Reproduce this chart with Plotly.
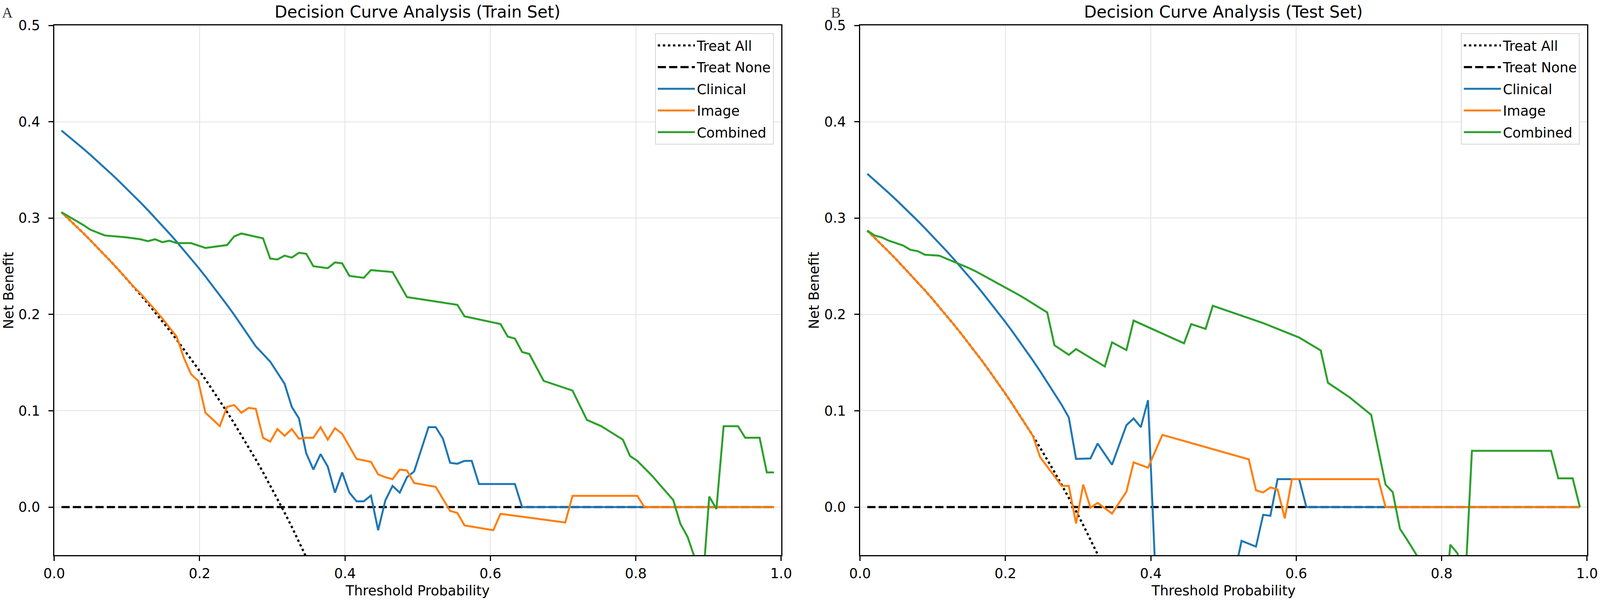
import plotly.graph_objects as go

W, H = 4212, 1541

# ---------------- data ----------------
# threshold probabilities used for the smooth "Treat All" curves
grid_lo = [0.01, 0.0199, 0.0298, 0.0397, 0.0496, 0.0595, 0.0694, 0.0793, 0.0892,
           0.0991, 0.109, 0.1189, 0.1288, 0.1387, 0.1486, 0.1585, 0.1684, 0.1783,
           0.1882, 0.1981, 0.208, 0.2179, 0.2278, 0.2377, 0.2476, 0.2575, 0.2674,
           0.2773, 0.2872, 0.2971, 0.307, 0.3169, 0.3268, 0.3367, 0.3466, 0.3565]

# --- Train set ---
train_all_x = grid_lo
train_all_y = [0.3061, 0.2991, 0.2919, 0.2846, 0.2771, 0.2695, 0.2618, 0.2538, 0.2457,
               0.2374, 0.2290, 0.2203, 0.2114, 0.2024, 0.1931, 0.1836, 0.1739, 0.1639,
               0.1537, 0.1433, 0.1326, 0.1216, 0.1103, 0.0988, 0.0869, 0.0747, 0.0622,
               0.0494, 0.0362, 0.0226, 0.0087, -0.0057, -0.0205, -0.0357, -0.0514, -0.0676]

none_x = [0.01, 0.99]
none_y = [0.0, 0.0]

train_clin_x = [0.01, 0.0199, 0.0298, 0.0397, 0.0496, 0.0595, 0.0694, 0.0793, 0.0892,
                0.0991, 0.109, 0.1189, 0.1288, 0.1387, 0.1486, 0.1585, 0.1684, 0.1783,
                0.1882, 0.1981, 0.208, 0.2179, 0.2278, 0.2377, 0.2476, 0.2575, 0.2674,
                0.2773, 0.2872, 0.2971, 0.3169, 0.3268, 0.3367, 0.3466, 0.3565, 0.3664,
                0.3763, 0.3862, 0.3961, 0.406, 0.4159, 0.4258, 0.4357, 0.4456, 0.4555,
                0.4654, 0.4753, 0.4852, 0.4951, 0.5149, 0.5248, 0.5347, 0.5446, 0.5545,
                0.5644, 0.5743, 0.5842, 0.6337, 0.6436, 0.9901]
train_clin_y = [0.3909, 0.3848, 0.3786, 0.3722, 0.3657, 0.3590, 0.3523, 0.3453, 0.3382,
                0.3310, 0.3236, 0.3160, 0.3083, 0.3004, 0.2923, 0.2840, 0.2755, 0.2668,
                0.2579, 0.2488, 0.2394, 0.2298, 0.2200, 0.2099, 0.1996, 0.1889, 0.1780,
                0.1668, 0.159, 0.151, 0.128, 0.104, 0.092, 0.056, 0.039, 0.055,
                0.042, 0.015, 0.036, 0.015, 0.006, 0.006, 0.012, -0.024, 0.007,
                0.022, 0.015, 0.031, 0.037, 0.083, 0.083, 0.071, 0.046, 0.045,
                0.048, 0.048, 0.024, 0.024, 0.0, 0.0]

train_img_x = [0.01, 0.0199, 0.0298, 0.0397, 0.0496, 0.0595, 0.0694, 0.0793, 0.0892,
               0.0991, 0.109, 0.1189, 0.1288, 0.1387, 0.1486, 0.1585, 0.1684, 0.1783,
               0.1882, 0.1981, 0.208, 0.2278, 0.2377, 0.2476, 0.2575, 0.2674, 0.2773,
               0.2872, 0.2971, 0.307, 0.3169, 0.3268, 0.3367, 0.3466, 0.3565, 0.3664,
               0.3763, 0.3862, 0.3961, 0.4159, 0.4357, 0.4456, 0.4555, 0.4654, 0.4753,
               0.4852, 0.4951, 0.5248, 0.5446, 0.5545, 0.5644, 0.604, 0.6139, 0.703,
               0.7129, 0.802, 0.8119, 0.9901]
train_img_y = [0.3061, 0.2991, 0.2919, 0.2846, 0.2771, 0.2695, 0.2618, 0.2538, 0.2457,
               0.2374, 0.2290, 0.2215, 0.2135, 0.2048, 0.1960, 0.1866, 0.1770, 0.155,
               0.138, 0.131, 0.098, 0.084, 0.104, 0.106, 0.098, 0.103, 0.102,
               0.072, 0.068, 0.081, 0.074, 0.081, 0.071, 0.072, 0.072, 0.083,
               0.070, 0.082, 0.076, 0.050, 0.047, 0.034, 0.031, 0.029, 0.039,
               0.038, 0.025, 0.021, -0.004, -0.006, -0.019, -0.024, -0.007, -0.016,
               0.0117, 0.0117, 0.0, 0.0]

train_comb_x = [0.01, 0.0397, 0.0496, 0.0694, 0.0991, 0.1189, 0.1288, 0.1387, 0.1486,
                0.1585, 0.1684, 0.1882, 0.208, 0.2377, 0.2476, 0.2575, 0.2872, 0.2971,
                0.307, 0.3169, 0.3268, 0.3367, 0.3466, 0.3565, 0.3763, 0.3862, 0.3961,
                0.406, 0.4258, 0.4357, 0.4654, 0.4852, 0.5545, 0.5644, 0.6139, 0.6238,
                0.6337, 0.6436, 0.6535, 0.6733, 0.7129, 0.7327, 0.7525, 0.7822, 0.7921,
                0.802, 0.8218, 0.8416, 0.8515, 0.8614, 0.8713, 0.8812, 0.8911, 0.901,
                0.9109, 0.9208, 0.9406, 0.9505, 0.9703, 0.9802, 0.9901]
train_comb_y = [0.306, 0.293, 0.288, 0.282, 0.280, 0.278, 0.276, 0.278, 0.275,
                0.2765, 0.274, 0.274, 0.269, 0.272, 0.281, 0.284, 0.279, 0.258,
                0.257, 0.261, 0.259, 0.264, 0.263, 0.250, 0.248, 0.254, 0.253,
                0.240, 0.238, 0.246, 0.244, 0.218, 0.210, 0.198, 0.190, 0.177,
                0.175, 0.161, 0.159, 0.131, 0.121, 0.0905, 0.084, 0.070, 0.053,
                0.048, 0.033, 0.016, 0.0073, -0.0175, -0.031, -0.053, -0.090, 0.011,
                -0.002, 0.084, 0.084, 0.072, 0.072, 0.036, 0.036]

# --- Test set ---
test_all_x = grid_lo[:34]
test_all_y = [0.2870, 0.2798, 0.2724, 0.2649, 0.2573, 0.2494, 0.2415, 0.2333, 0.2250,
              0.2165, 0.2077, 0.1988, 0.1897, 0.1804, 0.1709, 0.1611, 0.1512, 0.1409,
              0.1305, 0.1197, 0.1087, 0.0974, 0.0859, 0.0740, 0.0618, 0.0493, 0.0365,
              0.0232, 0.0097, -0.0043, -0.0186, -0.0334, -0.0486, -0.0642]

test_clin_x = [0.01, 0.0199, 0.0298, 0.0397, 0.0496, 0.0595, 0.0694, 0.0793, 0.0892,
               0.0991, 0.109, 0.1189, 0.1288, 0.1387, 0.1486, 0.1585, 0.1684, 0.1783,
               0.1882, 0.1981, 0.208, 0.2179, 0.2278, 0.2377, 0.2476, 0.2575, 0.2674,
               0.2773, 0.2872, 0.2971, 0.3169, 0.3268, 0.3466, 0.3664, 0.3763, 0.3862,
               0.3961, 0.406, 0.4159, 0.505, 0.5149, 0.5248, 0.5446, 0.5545, 0.5644,
               0.5743, 0.604, 0.6139, 0.9901]
test_clin_y = [0.3460, 0.3395, 0.3328, 0.3260, 0.3190, 0.3119, 0.3046, 0.2972, 0.2896,
               0.2819, 0.2740, 0.2659, 0.2576, 0.2491, 0.2404, 0.2316, 0.2225, 0.2132,
               0.2037, 0.1939, 0.1839, 0.1736, 0.1631, 0.1523, 0.1412, 0.1298, 0.1182,
               0.1062, 0.093, 0.050, 0.0505, 0.066, 0.044, 0.085, 0.092, 0.083,
               0.111, -0.065, -0.14, -0.12, -0.07, -0.035, -0.041, -0.008, -0.009,
               0.029, 0.029, 0.0, 0.0]

test_img_x = [0.01, 0.0199, 0.0298, 0.0397, 0.0496, 0.0595, 0.0694, 0.0793, 0.0892,
              0.0991, 0.109, 0.1189, 0.1288, 0.1387, 0.1486, 0.1585, 0.1684, 0.1783,
              0.1882, 0.1981, 0.208, 0.2179, 0.2278, 0.2377, 0.2476, 0.2773, 0.2872,
              0.2971, 0.307, 0.3169, 0.3268, 0.3466, 0.3664, 0.3763, 0.3961, 0.4159,
              0.5347, 0.5446, 0.5545, 0.5644, 0.5743, 0.5842, 0.5941, 0.7129, 0.7228,
              0.9901]
test_img_y = [0.2870, 0.2798, 0.2724, 0.2649, 0.2573, 0.2494, 0.2415, 0.2333, 0.2250,
              0.2165, 0.2077, 0.1988, 0.1897, 0.1804, 0.1709, 0.1611, 0.1512, 0.1409,
              0.1305, 0.1197, 0.1087, 0.0974, 0.0859, 0.0740, 0.052, 0.022, 0.022,
              -0.017, 0.0234, -0.0006, 0.0044, -0.0067, 0.016, 0.0464, 0.041, 0.075,
              0.0496, 0.0175, 0.0152, 0.0204, 0.0184, -0.0117, 0.029, 0.029, 0.0,
              0.0]

test_comb_x = [0.01, 0.0199, 0.0298, 0.0397, 0.0595, 0.0694, 0.0793, 0.0892, 0.109,
               0.1189, 0.1288, 0.1387, 0.1486, 0.1585, 0.1684, 0.1783, 0.1882, 0.1981,
               0.208, 0.2179, 0.2278, 0.2377, 0.2476, 0.2575, 0.2674, 0.2872, 0.2971,
               0.3367, 0.3466, 0.3664, 0.3763, 0.4456, 0.4555, 0.4753, 0.4852, 0.505,
               0.5545, 0.604, 0.6337, 0.6436, 0.6733, 0.703, 0.7228, 0.7327, 0.7426,
               0.7525, 0.7624, 0.7723, 0.7822, 0.802, 0.8119, 0.8218, 0.8317, 0.8416,
               0.9505, 0.9604, 0.9802, 0.9901]
test_comb_y = [0.287, 0.282, 0.280, 0.2765, 0.2715, 0.267, 0.2657, 0.262, 0.261,
               0.258, 0.255, 0.252, 0.2485, 0.245, 0.241, 0.237, 0.233, 0.229,
               0.2245, 0.2205, 0.216, 0.2115, 0.207, 0.202, 0.168, 0.158, 0.164,
               0.146, 0.171, 0.163, 0.1936, 0.170, 0.190, 0.185, 0.209, 0.204,
               0.191, 0.176, 0.1626, 0.129, 0.114, 0.0958, 0.0234, 0.0155, -0.0225,
               -0.034, -0.046, -0.058, -0.08, -0.12, -0.039, -0.048, -0.09, 0.0584,
               0.0584, 0.0298, 0.0298, 0.0]

titles = ["Decision Curve Analysis (Train Set)", "Decision Curve Analysis (Test Set)"]
panel_letters = ["A", "B"]
x_ticks = [0.0, 0.2, 0.4, 0.6, 0.8, 1.0]
y_ticks = [0.0, 0.1, 0.2, 0.3, 0.4, 0.5]

# ---------------- styling ----------------
BLUE, ORANGE, GREEN = "#1f77b4", "#ff7f0e", "#2ca02c"
FONT = "DejaVu Sans"

# axes boxes, as fractions of the 4212 x 1541 picture
x_dom = [[142.7 / W, 2056.5 / W], [2264 / W, 4178 / W]]
y_dom = [(H - 1421.4) / H, (H - 65) / H]

fig = go.Figure()

panels = [
    (train_all_x, train_all_y, train_clin_x, train_clin_y, train_img_x, train_img_y,
     train_comb_x, train_comb_y),
    (test_all_x, test_all_y, test_clin_x, test_clin_y, test_img_x, test_img_y,
     test_comb_x, test_comb_y),
]

for i, (ax_, ay_, cx, cy, ix, iy, mx, my) in enumerate(panels):
    xa = "x" if i == 0 else "x2"
    ya = "y" if i == 0 else "y2"
    lg = "legend" if i == 0 else "legend2"
    common = dict(xaxis=xa, yaxis=ya, legend=lg, mode="lines", hoverinfo="skip")
    fig.add_trace(go.Scatter(x=ax_, y=ay_, name="Treat All", legendgroup=f"all{i}",
                             line=dict(color="black", width=5.5, dash="6px,7px"), **common))
    fig.add_trace(go.Scatter(x=none_x, y=none_y, name="Treat None", legendgroup=f"none{i}",
                             line=dict(color="black", width=5.5, dash="21px,8px"), **common))
    fig.add_trace(go.Scatter(x=cx, y=cy, name="Clinical", legendgroup=f"clin{i}",
                             line=dict(color=BLUE, width=5), **common))
    fig.add_trace(go.Scatter(x=ix, y=iy, name="Image", legendgroup=f"img{i}",
                             line=dict(color=ORANGE, width=5), **common))
    fig.add_trace(go.Scatter(x=mx, y=my, name="Combined", legendgroup=f"comb{i}",
                             line=dict(color=GREEN, width=5), **common))

axis_common = dict(
    showline=True, linecolor="black", linewidth=3, mirror=True,
    ticks="outside", ticklen=12, tickwidth=3, tickcolor="black",
    showgrid=True, gridcolor="#e2e2e2", gridwidth=2, zeroline=False,
    tickfont=dict(family=FONT, size=35, color="black"), tickformat=".1f",
    automargin=False,
)

legend_common = dict(
    font=dict(family=FONT, size=35, color="black"), bgcolor="white",
    bordercolor="#d4d4d4", borderwidth=2, xanchor="right", yanchor="top",
    itemwidth=95, traceorder="grouped", tracegroupgap=7,
)

fig.update_layout(
    autosize=True,
    margin=dict(l=0, r=0, t=0, b=0, pad=0),
    paper_bgcolor="white", plot_bgcolor="white",
    font=dict(family=FONT, color="black"),
    xaxis=dict(domain=x_dom[0], range=[0, 1], tickvals=x_ticks, anchor="y",
               ticklabelstandoff=2, **axis_common),
    yaxis=dict(domain=y_dom, range=[-0.05, 0.5], tickvals=y_ticks, anchor="x",
               ticklabelstandoff=14, **axis_common),
    xaxis2=dict(domain=x_dom[1], range=[0, 1], tickvals=x_ticks, anchor="y2",
                ticklabelstandoff=2, **axis_common),
    yaxis2=dict(domain=y_dom, range=[-0.05, 0.5], tickvals=y_ticks, anchor="x2",
                ticklabelstandoff=14, **axis_common),
    legend=dict(x=2037 / W, y=1 - 85 / H, **legend_common),
    legend2=dict(x=4159 / W, y=1 - 85 / H, **legend_common),
)

# titles, axis labels and panel letters
letter_x = [20 / W, 2200 / W]
ylabel_x = [23 / W, 2143 / W]
for i in range(2):
    cx = (x_dom[i][0] + x_dom[i][1]) / 2
    fig.add_annotation(text=titles[i], x=cx, y=1 - 30 / H, xref="paper", yref="paper",
                       xanchor="center", yanchor="middle", showarrow=False,
                       font=dict(family=FONT, size=42, color="black"))
    fig.add_annotation(text="Threshold Probability", x=cx, y=1 - 1512 / H,
                       xref="paper", yref="paper", xanchor="center", yanchor="middle",
                       showarrow=False, font=dict(family=FONT, size=35, color="black"))
    fig.add_annotation(text="Net Benefit", x=ylabel_x[i], y=(y_dom[0] + y_dom[1]) / 2,
                       xref="paper", yref="paper", xanchor="center", yanchor="middle",
                       textangle=-90, showarrow=False,
                       font=dict(family=FONT, size=35, color="black"))
    fig.add_annotation(text=panel_letters[i], x=letter_x[i], y=1 - 32 / H,
                       xref="paper", yref="paper", xanchor="center", yanchor="middle",
                       showarrow=False,
                       font=dict(family="Liberation Serif", size=38, color="#333333"))

# fill the browser window exactly (no body margin, no scrollbars)
fit_page = (
    "document.documentElement.style.overflow='hidden';"
    "document.body.style.margin='0';"
    "document.body.style.overflow='hidden';"
    "Plotly.Plots.resize(document.getElementById('{plot_id}'));"
)
fig.write_html("out.html", default_width="100vw", default_height="100vh",
               config={"displayModeBar": False, "responsive": True},
               post_script=fit_page)
